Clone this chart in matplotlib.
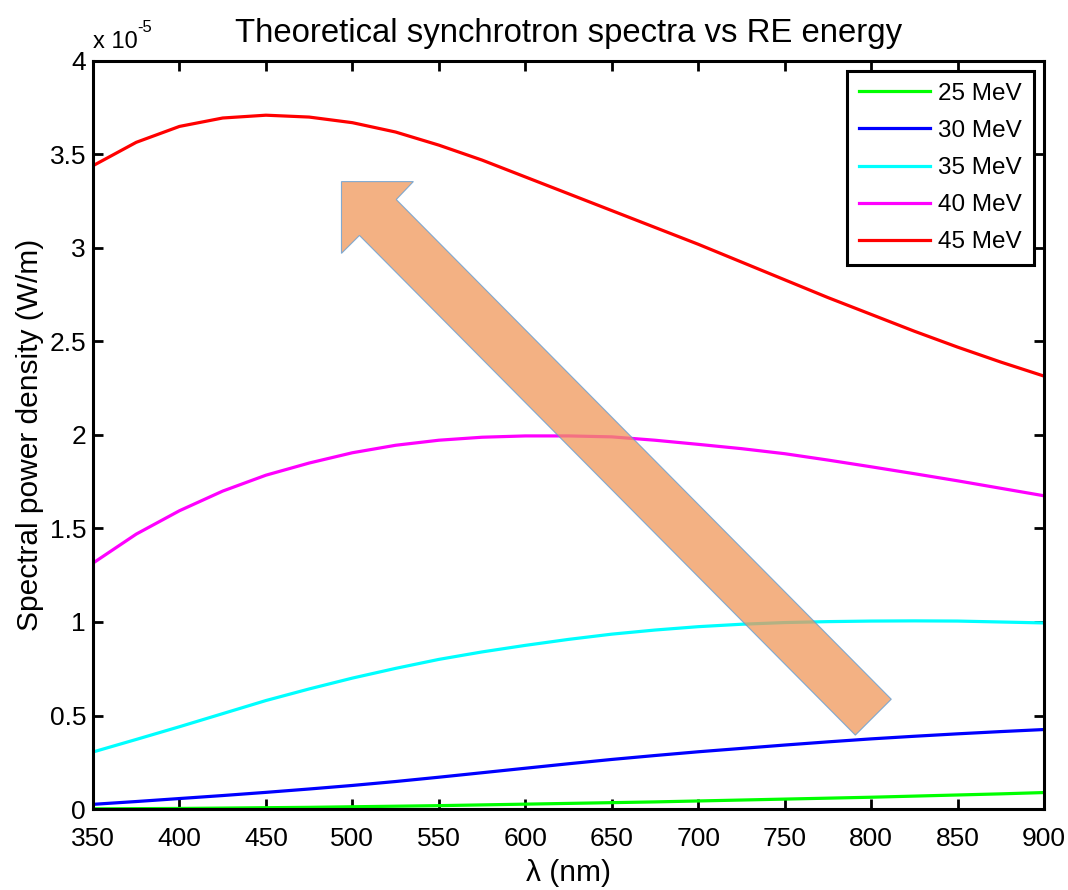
#!/usr/bin/env python3
"""Theoretical synchrotron spectra vs RE energy -> out.png"""
import numpy as np
import matplotlib
matplotlib.use("Agg")
import matplotlib.pyplot as plt
from matplotlib.patches import Polygon

plt.rcParams["font.family"] = ["Liberation Sans", "DejaVu Sans"]

# wavelength (nm)
wavelength = [350, 375, 400, 425, 450, 475, 500, 525, 550, 575, 600, 625,
              650, 675, 700, 725, 750, 775, 800, 825, 850, 875, 900]

# spectral power density, units of 1e-5 W/m
p25 = [0.001, 0.002, 0.003, 0.005, 0.007, 0.009, 0.012, 0.015, 0.018, 0.022, 0.026, 0.030,
       0.034, 0.038, 0.043, 0.048, 0.053, 0.058, 0.063, 0.069, 0.075, 0.081, 0.088]
p30 = [0.025, 0.040, 0.056, 0.072, 0.089, 0.107, 0.126, 0.147, 0.170, 0.194, 0.218, 0.242,
       0.265, 0.286, 0.306, 0.324, 0.342, 0.359, 0.375, 0.389, 0.402, 0.414, 0.425]
p35 = [0.305, 0.372, 0.440, 0.510, 0.580, 0.642, 0.700, 0.752, 0.800, 0.840, 0.875, 0.907,
       0.935, 0.957, 0.975, 0.988, 0.997, 1.002, 1.005, 1.006, 1.005, 1.000, 0.995]
p40 = [1.315, 1.470, 1.595, 1.700, 1.785, 1.850, 1.905, 1.945, 1.972, 1.988, 1.995, 1.995,
       1.990, 1.972, 1.950, 1.927, 1.900, 1.866, 1.830, 1.793, 1.755, 1.715, 1.675]
p45 = [3.440, 3.565, 3.650, 3.695, 3.710, 3.700, 3.670, 3.620, 3.550, 3.470, 3.380, 3.290,
       3.200, 3.110, 3.020, 2.925, 2.830, 2.735, 2.645, 2.555, 2.470, 2.390, 2.315]

series = [p25, p30, p35, p40, p45]
labels = ["25 MeV", "30 MeV", "35 MeV", "40 MeV", "45 MeV"]
colors = ["#00ff00", "#0000ff", "#00ffff", "#ff00ff", "#ff0000"]

# big arrow drawn over the plot (data coords: nm, 1e-5 W/m)
arrow_x = [493.7, 535.3, 525.4, 811.7, 790.9, 504.1, 493.7]
arrow_y = [3.355, 3.355, 3.259, 0.587, 0.395, 3.067, 2.971]

fig = plt.figure(figsize=(10.68, 8.90), dpi=100)
ax = fig.add_axes([0.0871, 0.091, 0.8904, 0.8405])

for vals, lab, c in zip(series, labels, colors):
    ax.plot(wavelength, vals, color=c, lw=2.3, label=lab)

ax.add_patch(Polygon(np.column_stack([arrow_x, arrow_y]), closed=True,
                     facecolor="#f0975a", alpha=0.75, edgecolor="#5b9bd5",
                     lw=0.8, zorder=5))

ax.set_xlim(350, 900)
ax.set_ylim(0, 4)
ax.set_xticks(np.arange(350, 901, 50))
ax.set_yticks(np.arange(0, 4.01, 0.5))
ax.set_yticklabels([f"{v:g}" for v in np.arange(0, 4.01, 0.5)])
ax.tick_params(direction="in", length=7, width=2, labelsize=19,
               top=True, right=True)
ax.tick_params(axis="x", pad=13)
ax.tick_params(axis="y", pad=5)
for s in ax.spines.values():
    s.set_linewidth(2.2)

ax.set_title("Theoretical synchrotron spectra vs RE energy", fontsize=23.7, pad=14)
ax.set_xlabel("λ (nm)", fontsize=21.5, labelpad=6)
ax.set_ylabel("Spectral power density (W/m)", fontsize=21.5, labelpad=4)
ax.text(0.0, 1.01, "x 10", transform=ax.transAxes, fontsize=17,
        ha="left", va="bottom")
ax.text(0.047, 1.035, "-5", transform=ax.transAxes, fontsize=12,
        ha="left", va="bottom")

leg = ax.legend(loc="upper right", fontsize=17.5, fancybox=False,
                framealpha=1, edgecolor="black", borderaxespad=0.4,
                handlelength=2.9, handletextpad=0.35, labelspacing=0.62,
                borderpad=0.5)
leg.get_frame().set_linewidth(2.2)

fig.savefig("out.png", dpi=100)
